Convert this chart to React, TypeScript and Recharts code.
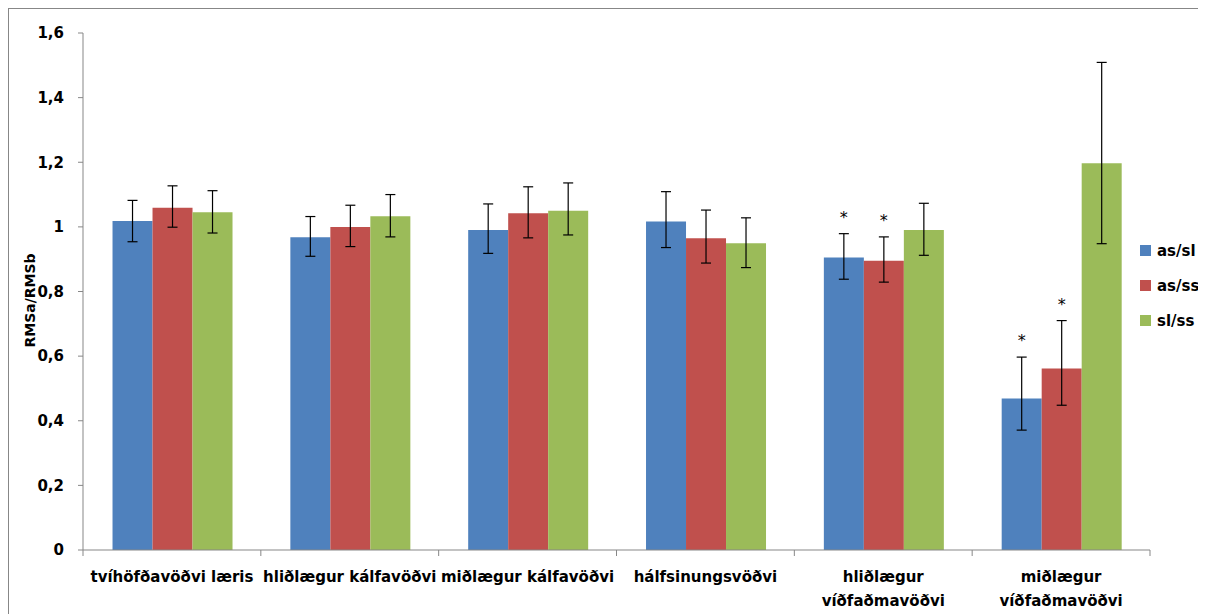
import React from 'react';
import { BarChart, Bar, XAxis, YAxis, ErrorBar, Legend, LabelList } from 'recharts';

const categories = [
  'tvíhöfðavöðvi læris',
  'hliðlægur kálfavöðvi',
  'miðlægur kálfavöðvi',
  'hálfsinungsvöðvi',
  'hliðlægur\nvíðfaðmavöðvi',
  'miðlægur\nvíðfaðmavöðvi',
];
const seriesNames = ['as/sl', 'as/ss', 'sl/ss'];
const asSl = [1.018, 0.968, 0.99, 1.017, 0.905, 0.469];
const asSs = [1.059, 1.0, 1.042, 0.965, 0.895, 0.562];
const slSs = [1.045, 1.033, 1.05, 0.949, 0.99, 1.197];
// [minus, plus]
const asSlErr = [[0.064, 0.064], [0.059, 0.064], [0.072, 0.081], [0.081, 0.092], [0.067, 0.074], [0.098, 0.128]];
const asSsErr = [[0.06, 0.068], [0.061, 0.067], [0.076, 0.082], [0.077, 0.087], [0.066, 0.074], [0.114, 0.148]];
const slSsErr = [[0.064, 0.067], [0.064, 0.067], [0.075, 0.086], [0.075, 0.079], [0.078, 0.083], [0.249, 0.312]];
const asSlStar = [false, false, false, false, true, true];
const asSsStar = [false, false, false, false, true, true];
const slSsStar = [false, false, false, false, false, false];
const yTicks = [0, 0.2, 0.4, 0.6, 0.8, 1, 1.2, 1.4, 1.6];
const yTickLabels = ['0', '0,2', '0,4', '0,6', '0,8', '1', '1,2', '1,4', '1,6'];

const colors = ['#4F81BD', '#C0504D', '#9BBB59'];
const FONT = '"DejaVu Sans", Verdana, sans-serif';

const data = categories.map((c, i) => ({
  name: c,
  asSl: asSl[i],
  asSs: asSs[i],
  slSs: slSs[i],
  asSlErr: asSlErr[i],
  asSsErr: asSsErr[i],
  slSsErr: slSsErr[i],
  asSlStar: asSlStar[i],
  asSsStar: asSsStar[i],
  slSsStar: slSsStar[i],
}));

const CategoryTick = (props: any) => {
  const { x, y, payload, index } = props;
  const half = payload && payload.offset ? payload.offset : 0;
  const lines = String(payload.value).split('\n');
  return (
    <g>
      <line x1={x - half} y1={y} x2={x - half} y2={y + 6} stroke="#878787" />
      {index === categories.length - 1 && (
        <line x1={x + half} y1={y} x2={x + half} y2={y + 6} stroke="#878787" />
      )}
      <text x={x} y={y + 32} textAnchor="middle" fontFamily={FONT} fontWeight="bold" fontSize={15} fill="#000">
        {lines.map((l, k) => (
          <tspan key={k} x={x} dy={k === 0 ? 0 : 24}>{l}</tspan>
        ))}
      </text>
    </g>
  );
};

const makeStar = (errKey: string, starKey: string) => (props: any) => {
  const { x, y, width, height, index } = props;
  const d: any = data[index];
  if (!d || !d[starKey]) return null;
  const val = d[errKey.replace('Err', '')];
  const plus = d[errKey][1];
  const pxPerUnit = height / val;
  const top = y - plus * pxPerUnit;
  return (
    <text x={x + width / 2} y={top - 11} textAnchor="middle" fontFamily={FONT} fontSize={16} fill="#000">*</text>
  );
};

const LegendContent = () => (
  <div style={{ fontFamily: FONT, fontWeight: 'bold', fontSize: 15, color: '#000' }}>
    {seriesNames.map((n, i) => (
      <div key={n} style={{ display: 'flex', alignItems: 'center', height: 35 }}>
        <span style={{ width: 11, height: 11, background: colors[i], display: 'inline-block', marginRight: 6 }} />
        <span>{n}</span>
      </div>
    ))}
  </div>
);

const YTitle = (props: any) => {
  const vb = props.viewBox || { x: 0, y: 0, width: 0, height: 0 };
  const cx = 21;
  const cy = vb.y + vb.height / 2 + 9;
  return (
    <text x={cx} y={cy} transform={`rotate(-90, ${cx}, ${cy})`} textAnchor="middle" dominantBaseline="central" fontFamily={FONT} fontWeight="bold" fontSize={14} fill="#000">
      RMSa/RMSb
    </text>
  );
};

export default function App() {
  return (
    <div style={{ width: 1197, height: 606, borderTop: '1px solid #878787', borderLeft: '1px solid #878787', position: 'relative', background: '#fff', overflow: 'hidden' }}>
      <BarChart width={1197} height={605} data={data} margin={{ top: 24, right: 56, left: 0, bottom: 0 }} barCategoryGap="16.6%" barGap={0}>
        <XAxis dataKey="name" height={64} interval={0} tick={<CategoryTick />} tickLine={false} tickSize={0} tickMargin={0} axisLine={{ stroke: '#878787' }} />
        <YAxis
          width={74}
          domain={[0, 1.6]}
          ticks={yTicks}
          interval={0}
          tickFormatter={(v: number) => yTickLabels[yTicks.indexOf(v)] ?? String(v)}
          tick={{ fontFamily: FONT, fontWeight: 'bold', fontSize: 15, fill: '#000' }}
          tickSize={5}
          tickMargin={14}
          tickLine={{ stroke: '#878787' }}
          axisLine={{ stroke: '#878787' }}
          label={<YTitle />}
        />
        <Legend layout="vertical" align="center" verticalAlign="middle" wrapperStyle={{ left: 1131, top: 224, width: 70 }} content={<LegendContent />} />
        <Bar dataKey="asSl" name="as/sl" fill={colors[0]} isAnimationActive={false}>
          <ErrorBar dataKey="asSlErr" width={5} stroke="#000" strokeWidth={1.2} isAnimationActive={false} />
          <LabelList dataKey="asSl" content={makeStar('asSlErr', 'asSlStar')} />
        </Bar>
        <Bar dataKey="asSs" name="as/ss" fill={colors[1]} isAnimationActive={false}>
          <ErrorBar dataKey="asSsErr" width={5} stroke="#000" strokeWidth={1.2} isAnimationActive={false} />
          <LabelList dataKey="asSs" content={makeStar('asSsErr', 'asSsStar')} />
        </Bar>
        <Bar dataKey="slSs" name="sl/ss" fill={colors[2]} isAnimationActive={false}>
          <ErrorBar dataKey="slSsErr" width={5} stroke="#000" strokeWidth={1.2} isAnimationActive={false} />
          <LabelList dataKey="slSs" content={makeStar('slSsErr', 'slSsStar')} />
        </Bar>
      </BarChart>
    </div>
  );
}
